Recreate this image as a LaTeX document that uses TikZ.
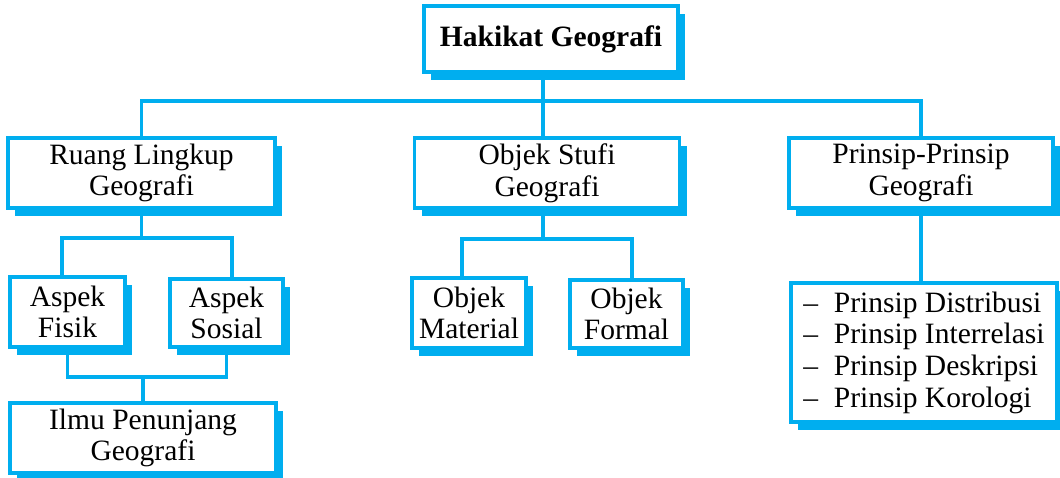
\documentclass[tikz,border=0pt]{standalone}
\usepackage{fontspec}
\setmainfont{Liberation Serif}
\usepackage{tikz}
\usetikzlibrary{shadows,calc}
\definecolor{GeoCyan}{HTML}{00AEEF}

\tikzset{
  geobox/.style={draw=GeoCyan, line width=1.9pt, fill=white, align=center,
    inner sep=0pt, font=\fontsize{16.8}{18}\selectfont,
    drop shadow={shadow xshift=0.14cm, shadow yshift=-0.15cm, opacity=1, fill=GeoCyan}},
  boxsize/.style 2 args={minimum width=#1*0.02cm, minimum height=#2*0.02cm},
  geolink/.style={draw=GeoCyan, line width=1.9pt},
}

\begin{document}
\begin{tikzpicture}[x=0.02cm, y=-0.02cm]
  \useasboundingbox (0,0) rectangle (1060,477);

  % boxes
  \node[geobox, boxsize={254}{66}, font=\bfseries\fontsize{16.8}{18}\selectfont] (hakikat) at (551,39) {Hakikat Geografi};
  \node[geobox, boxsize={267}{70}] (ruang) at (141.5,173) {Ruang Lingkup\\Geografi};
  \node[geobox, boxsize={265}{70}] (objek) at (547,173) {Objek Stufi\\Geografi};
  \node[geobox, boxsize={264}{70}] (prinsip) at (921,173) {Prinsip-Prinsip\\Geografi};

  \node[geobox, boxsize={115}{70}] (fisik) at (67.5,312) {Aspek\\Fisik};
  \node[geobox, boxsize={113}{68}] (sosial) at (226.5,313) {Aspek\\Sosial};
  \node[geobox, boxsize={266}{70}] (ilmu) at (143,438) {Ilmu Penunjang\\Geografi};

  \node[geobox, boxsize={114}{70}] (material) at (469,313) {Objek\\Material};
  \node[geobox, boxsize={113}{68}] (formal) at (626.5,314) {Objek\\Formal};

  \node[geobox, boxsize={266}{139}, align=left] (daftar) at (924,352.5)
    {–\hspace{9pt}Prinsip Distribusi\\–\hspace{9pt}Prinsip Interrelasi\\
     –\hspace{9pt}Prinsip Deskripsi\\–\hspace{9pt}Prinsip Korologi};

  % connectors
  \coordinate (bus) at (543,101);
  \draw[geolink] (hakikat.south -| bus) -- (objek.north -| bus);
  \draw[geolink] (ruang.north) |- (bus) -| (prinsip.north);

  \coordinate (rlL) at (62,238);
  \coordinate (rlR) at (232,238);
  \draw[geolink] (ruang.south) -- (ruang.south |- rlL);
  \draw[geolink] (fisik.north -| rlL) -- (rlL) -- (rlR) -- (sosial.north -| rlR);

  \coordinate (gabung) at (143,377);
  \draw[geolink] (fisik.south) |- (gabung) -| (sosial.south);
  \draw[geolink] (gabung) -- (ilmu.north);

  \coordinate (obL) at (462,239);
  \coordinate (obR) at (632,239);
  \draw[geolink] (objek.south -| bus) -- (obL -| bus);
  \draw[geolink] (material.north -| obL) -- (obL) -- (obR) -- (formal.north -| obR);

  \draw[geolink] (prinsip.south) -- (prinsip.south |- daftar.north);
\end{tikzpicture}
\end{document}
